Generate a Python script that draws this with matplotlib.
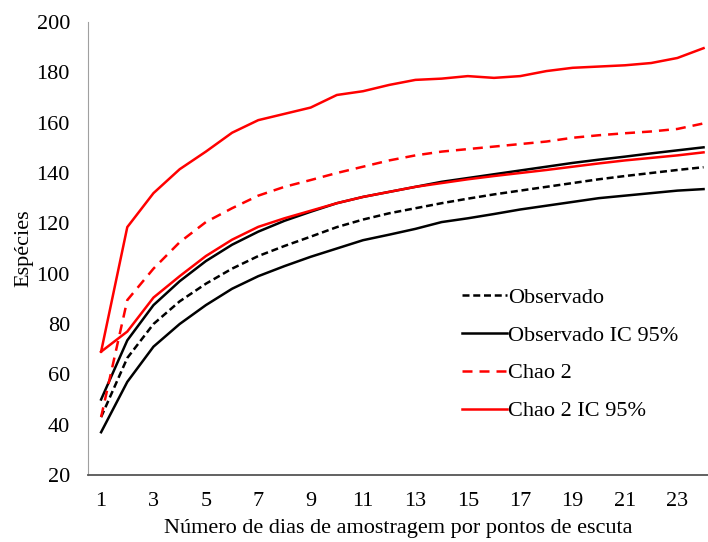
import numpy as np
from matplotlib import pyplot as plt

plt.rcParams.update({"font.family": ["Liberation Serif", "DejaVu Serif"],
                     "font.size": 16})

dias = np.arange(1, 25)
observado = [43, 66.5, 80, 89, 96, 102, 107, 111, 114.7, 118.5, 121.5, 124,
             126, 128, 129.8, 131.5, 133, 134.5, 136, 137.5, 138.8, 140, 141.2, 142.3]
obs_ic_inf = [37, 57, 71, 80, 87.5, 94, 99, 103, 106.7, 110, 113.3, 115.5,
              117.8, 120.5, 122, 123.7, 125.5, 127, 128.5, 130, 131, 132, 133, 133.6]
obs_ic_sup = [50, 73.5, 87.5, 97, 105, 111.5, 116.7, 121, 124.6, 128, 130.5, 132.5,
              134.5, 136.5, 138, 139.5, 141, 142.5, 144, 145.3, 146.5, 147.8, 149, 150.2]
chao2 = [43, 89.5, 102, 112.5, 120.5, 126, 131, 134.5, 137.2, 140, 142.5, 145,
         147, 148.5, 149.5, 150.5, 151.5, 152.5, 154, 155, 155.8, 156.5, 157.5, 159.7]
chao_ic_inf = [69, 77, 90.5, 99, 107, 113.5, 118.6, 122, 125, 128, 130.5, 132.5,
               134.5, 136, 137.5, 138.8, 140, 141.2, 142.5, 143.8, 145, 146, 147, 148.2]
chao_ic_sup = [69, 118.5, 132, 141.5, 148.5, 156, 161, 163.5, 166, 171, 172.5, 175,
               177, 177.5, 178.5, 177.8, 178.5, 180.5, 181.8, 182.3, 182.8, 183.7, 185.7, 189.6]

fig = plt.figure(figsize=[7.08, 5.42], dpi=100)
ax = fig.add_axes([88/708, 67/542, 620/708, 453/542])

lw = 1.8
ax.plot(dias, observado, color="black", lw=lw, dashes=(2.8, 1.5), label="Observado")
ax.plot(dias, obs_ic_sup, color="black", lw=lw, label="Observado IC 95%")
ax.plot(dias, obs_ic_inf, color="black", lw=lw)
ax.plot(dias, chao2, color="red", lw=lw, dashes=(4.0, 2.8), label="Chao 2")
ax.plot(dias, chao_ic_sup, color="red", lw=lw, label="Chao 2 IC 95%")
ax.plot(dias, chao_ic_inf, color="red", lw=lw)

ax.set_xlim(0.5, 24.17)
ax.set_ylim(20, 200)
ax.set_xticks(range(1, 25, 2))
ax.set_yticks(range(20, 201, 20))
ax.tick_params(length=0, pad=12)
ax.tick_params(axis="y", pad=13)
for s in ["top", "right"]:
    ax.spines[s].set_visible(False)
ax.spines["left"].set_color("#a0a0a0")
ax.spines["bottom"].set_color("#555555")
ax.spines["bottom"].set_linewidth(1.3)

ax.set_xlabel("Número de dias de amostragem por pontos de escuta", labelpad=6)
ax.set_ylabel("Espécies", labelpad=2)

ax.legend(loc="upper left", bbox_to_anchor=(451/708, 1 - 276/542),
          bbox_transform=fig.transFigure, frameon=False, handlelength=2.0,
          handletextpad=0.05, labelspacing=0.78, borderpad=0)

plt.savefig("out.png", dpi=100)
